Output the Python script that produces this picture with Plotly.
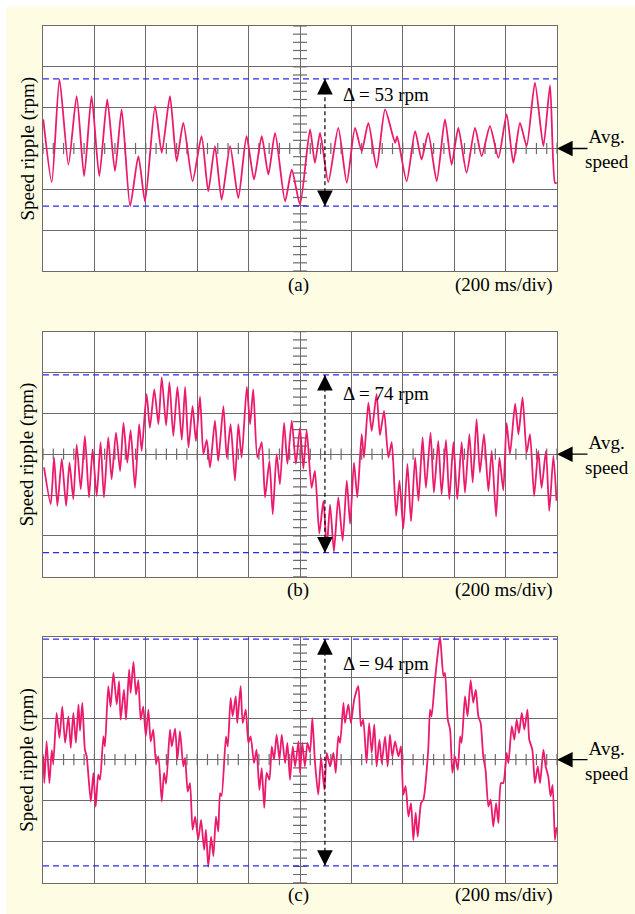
import plotly.graph_objects as go

# ---------------- data (time in ms, speed ripple in rpm) ----------------
t_a = [1, 34, 64, 99, 131, 160, 189, 219, 250, 280, 306, 339, 371, 397, 436, 462, 494, 520, 546, 582,
       617, 643, 669, 695, 728, 760, 792, 821, 851, 877, 903, 942, 968, 1000, 1039, 1058, 1078, 1110, 1149,
       1182, 1214, 1240, 1266, 1298, 1331, 1370, 1378, 1415, 1448, 1473, 1499, 1532, 1564, 1590, 1616, 1648,
       1681, 1707, 1739, 1772, 1804, 1830, 1856, 1882, 1914, 1947, 1973, 1992, 1999]
v_a = [12.1, -14, 28.8, -6.7, 21.8, -11.5, 21.8, -11.5, 20.4, -9.4, 16.3, -24, -3.2, -22, 17.6, -1.8,
       21.8, -5.3, 10.7, -13.6, 5.1, -17.8, 1, -21.3, 1, -20.6, 5.1, -12.9, 5.1, -10.8, 6.5, -22, -8.8,
       -23.3, 7.9, -6, 6.5, -14, 8.6, -14.3, 8.6, -1.1, 10.7, -8, 16.3, 2.4, 5, -13.6, 7.2, -4.6, 6.5, -13.6,
       12.1, -6.7, 8.6, -10.1, 8.6, -3.2, 9.3, -3.9, 14.2, -6, 10.7, 1, 27.4, 1, 26.3, -14.3, -14.3]

t_b = [4, 30, 43, 56, 73, 90, 103, 118, 131, 147, 163, 179, 193, 209, 224, 237, 254, 267, 284, 300,
       313, 328, 341, 358, 374, 384, 403, 416, 433, 449, 462, 479, 492, 507, 523, 540, 553, 566, 582,
       595, 611, 624, 637, 650, 669, 682, 702, 715, 730, 747, 760, 773, 793, 806, 818, 834, 851, 864,
       881, 894, 909, 922, 938, 951, 968, 984, 1000, 1013, 1026, 1045, 1058, 1075, 1091, 1104, 1117,
       1132, 1149, 1166, 1182, 1195, 1210, 1223, 1240, 1249, 1266, 1279, 1298, 1311, 1327, 1344, 1357,
       1374, 1387, 1402, 1418, 1432, 1448, 1461, 1477, 1490, 1508, 1521, 1538, 1551, 1568, 1581, 1597,
       1612, 1629, 1642, 1659, 1672, 1687, 1700, 1716, 1733, 1746, 1763, 1776, 1791, 1804, 1817, 1837,
       1850, 1866, 1882, 1895, 1911, 1927, 1940, 1957, 1970, 1986, 1998]
v_b = [-5.5, -20.8, -1.4, -21.5, -2, -21.5, -3.5, -18.7, 4, -14.6, 7.6, -18, 2, -17.4, 5, -18, 7, -10.4,
       9, -7, 13, -3.5, 10, -14, 12.5, 1.4, 25, 11, 27, 12.5, 32, 12, 30, 7.6, 28, 6, 28, 2.8, 20, 5.5,
       24, 0, 6, -5.5, 14, -2.8, 20, -1.4, 12.5, -11, 12.5, -1.4, 28, 12.5, 27, -1.4, 5, -18, -2.8, -25,
       0, -12.5, 13, -4, 14, -4, 11, -6, 10, -14, -7, -33, -19.4, -39, -21, -40.5, -18, -36, -11, -29,
       -3.5, -18, 8.3, -1.4, 21.5, 9.7, 25, 8, 18, -1.4, 5, -25.7, -11, -31, -4, -28, -1.4, -19.4, 7,
       -14, 9, -16, 5.5, -16.7, 6, -18.7, 5, -18.7, 5, -16, 8.3, -11.8, 14.6, -7.6, 8.3, -15.3, 1.4,
       -26, -1.4, -15, 13, 0, 21, 8.3, 23.6, 0.7, 8.3, -17.4, 1.4, -14, 1.4, -23.6, -0.7, -19.4]

t_c = [1, 5, 14, 25, 34, 40, 53, 64, 75, 86, 99, 108, 118, 128, 138, 144, 153, 163, 170, 186, 196,
       205, 215, 222, 235, 241, 254, 263, 274, 287, 296, 302, 315, 323, 335, 341, 352, 362, 371, 380,
       390, 400, 410, 419, 429, 440, 449, 462, 471, 479, 494, 501, 514, 523, 533, 546, 553, 563, 572,
       582, 592, 604, 615, 627, 634, 643, 654, 663, 673, 682, 689, 695, 712, 719, 730, 738, 750, 756,
       769, 777, 789, 799, 808, 821, 831, 842, 851, 861, 870, 881, 890, 899, 909, 920, 929, 942, 951,
       961, 972, 981, 994, 1000, 1009, 1019, 1029, 1039, 1048, 1058, 1071, 1082, 1095, 1104, 1117,
       1130, 1139, 1149, 1156, 1169, 1175, 1188, 1198, 1211, 1227, 1237, 1246, 1259, 1269, 1279, 1289,
       1298, 1309, 1318, 1331, 1341, 1350, 1359, 1370, 1383, 1393, 1402, 1411, 1422, 1432, 1441, 1450,
       1458, 1471, 1480, 1499, 1506, 1512, 1525, 1534, 1545, 1558, 1564, 1575, 1584, 1593, 1603, 1614,
       1623, 1629, 1642, 1652, 1664, 1674, 1684, 1694, 1703, 1713, 1722, 1733, 1742, 1752, 1763, 1772,
       1782, 1791, 1804, 1811, 1824, 1834, 1843, 1852, 1863, 1873, 1885, 1892, 1904, 1914, 1925, 1934,
       1947, 1956, 1966, 1975, 1983, 1992, 1998]
v_c = [1.4, -9.7, 7.6, -9.7, 4, -1.4, 19.4, 9, 22, 7, 18, 4.9, 19.4, 7, 22.9, 12, 23.6, 4.2, 1.4, -17.3,
       -5.5, -19.4, -6.2, -8.3, 9.7, 5.5, 30.5, 22, 36, 22.9, 32.6, 16.6, 29, 16.6, 37.4, 27.7, 40.5, 27,
       33, 16.6, 22, 9.7, 20.8, 7.6, 12.5, -1.4, 1.4, -17.3, -5.5, -10, 12.5, 5.5, 12.9, 0, 11.8, -2.8,
       0.7, -13.2, -9.7, -29, -23.6, -33, -25, -37.4, -29, -44.3, -31.9, -40, -23.6, -29.8, -13.9, -15,
       9.7, 5.5, 25.6, 18, 26.3, 15.2, 30.5, 15.2, 20.8, 7, 9.7, -1.4, 4.2, -12.5, -3.5, -20, -5.5, -8.3,
       5.5, 0, 10.4, 0, 10.4, -1.4, 7, -8.3, 5.5, -2.8, 7.6, -5.5, 7, -2.8, 7, 3, 17.3, -0.7, -14.5, 0.7,
       -12.5, 2.8, -2.8, 2.8, -5.5, 9.7, 7, 23.6, 15.2, 22.9, 15.2, 25, 30.5, 13.9, 16.6, -1.4, 15.2, 2.8,
       14.6, -2.8, 8.3, -1.4, 9.7, -2.8, 10.4, 1.4, 7.6, 1.4, 5.5, -14.5, -11, -23.6, -18, -33.3, -22,
       -31.9, -18, -16.6, 4.2, 20.8, 18, 33, 42, 51, 34.7, 36, 16.6, 12.5, -5.5, 1.4, -4.2, 9.7, 7, 26.3,
       18, 33, 23.6, 29, 18, 15.2, 1.4, -4.2, -19.4, -16.6, -27.7, -18, -26.3, -9.7, -9.7, 2.8, -1.4,
       13.9, 8.3, 16.6, 11, 19.4, 12.5, 20.8, 8.3, 4.2, -9.7, -2.8, -9.7, 4.2, -2.8, -6.9, -15.2, -10.4,
       -33.3, -28]

panel_letters = ["(a)", "(b)", "(c)"]
upper_lines = [29, 33, 50]
lower_lines = [-24, -41, -44]
delta_labels = ["Δ = 53 rpm", "Δ = 74 rpm", "Δ = 94 rpm"]
time_div_label = "(200 ms/div)"
y_title = "Speed ripple (rpm)"
avg_label = "Avg.<br>speed"

# ---------------- layout constants ----------------
W, H = 635, 914
MS_PER_DIV = 200
RPM_PER_DIV = 17
X_RANGE = [0, 2000]
Y_RANGE = [-3 * RPM_PER_DIV, 3 * RPM_PER_DIV]
GRID = "#706969"
TRACE = "#ec1a6c"
BLUE = "#2a2af0"
YELLOW = "#fefde4"
FONT = "Liberation Serif, Times New Roman, serif"

def px_x(px):
    return px / W

def px_y(py):
    return 1 - py / H

plot_left, plot_right = 43, 557
tops = [26, 331.7, 636.7]
bottoms = [271, 576.7, 882.7]
label_y = [285.5, 590, 895]
delta_y = [94, 394, 663]
arrow_t = 1097

series = [(t_a, v_a), (t_b, v_b), (t_c, v_c)]

fig = go.Figure()
shapes = []
annotations = []

for i, (tt, vv) in enumerate(series):
    n = "" if i == 0 else str(i + 1)
    xa, ya = "x" + n, "y" + n
    # minor ticks on the centre cross
    tick_y = [k * RPM_PER_DIV / 5 for k in range(-15, 16)]
    tick_x = [k * MS_PER_DIV / 5 for k in range(0, 51)]
    fig.add_trace(go.Scatter(x=[1000] * len(tick_y), y=tick_y, mode="markers", xaxis=xa, yaxis=ya,
                             marker=dict(symbol="line-ew", size=10, line=dict(color=GRID, width=1.2)),
                             hoverinfo="skip", showlegend=False))
    fig.add_trace(go.Scatter(x=tick_x, y=[0] * len(tick_x), mode="markers", xaxis=xa, yaxis=ya,
                             marker=dict(symbol="line-ns", size=8, line=dict(color=GRID, width=1.2)),
                             hoverinfo="skip", showlegend=False))
    fig.add_trace(go.Scatter(x=tt, y=vv, mode="lines", xaxis=xa, yaxis=ya,
                             line=dict(color=TRACE, width=1.8, shape="spline", smoothing=0.6),
                             showlegend=False))

    dom_y = [px_y(bottoms[i]), px_y(tops[i])]
    fig.update_layout(**{
        ("xaxis" + n): dict(domain=[px_x(plot_left), px_x(plot_right)], range=X_RANGE, dtick=MS_PER_DIV,
                            tick0=0, showgrid=True, gridcolor=GRID, gridwidth=1.4, zeroline=False,
                            showticklabels=False, ticks="", showline=True, linecolor=GRID, linewidth=1.4,
                            mirror=True, anchor=ya, fixedrange=True),
        ("yaxis" + n): dict(domain=dom_y, range=Y_RANGE, dtick=RPM_PER_DIV, tick0=0, showgrid=True,
                            gridcolor=GRID, gridwidth=1.4, zeroline=False, showticklabels=False, ticks="",
                            showline=True, linecolor=GRID, linewidth=1.4, mirror=True, anchor=xa,
                            fixedrange=True),
    })

    # blue dashed level lines
    for lvl in (upper_lines[i], lower_lines[i]):
        shapes.append(dict(type="line", xref=xa + " domain", yref=ya, x0=0, x1=1, y0=lvl, y1=lvl,
                           line=dict(color=BLUE, width=1.3, dash="6px,4px"), layer="above"))
    # dashed double-arrow shaft
    shapes.append(dict(type="line", xref=xa, yref=ya, x0=arrow_t, x1=arrow_t,
                       y0=lower_lines[i], y1=upper_lines[i],
                       line=dict(color="black", width=1.2, dash="4px,3px"), layer="above"))
    for lvl, off in ((upper_lines[i], 14), (lower_lines[i], -14)):
        annotations.append(dict(x=arrow_t, y=lvl, xref=xa, yref=ya, ax=0, ay=off, showarrow=True,
                                arrowhead=2, arrowsize=2.4, arrowwidth=1.3, arrowcolor="black", text=""))
    # avg speed arrow
    annotations.append(dict(x=X_RANGE[1], y=0, xref=xa, yref=ya, ax=32, ay=0, showarrow=True,
                            arrowhead=2, arrowsize=2.4, arrowwidth=1.3, arrowcolor="black", text=""))
    mid = (tops[i] + bottoms[i]) / 2
    annotations.append(dict(x=px_x(607), y=px_y(mid + 1), xref="paper", yref="paper", text=avg_label,
                            showarrow=False, xanchor="center", yanchor="middle",
                            font=dict(family=FONT, size=19, color="black")))
    annotations.append(dict(x=px_x(341), y=px_y(delta_y[i]), xref="paper", yref="paper",
                            text=delta_labels[i], showarrow=False, xanchor="left", yanchor="middle",
                            font=dict(family=FONT, size=19, color="black")))
    annotations.append(dict(x=px_x(298), y=px_y(label_y[i]), xref="paper", yref="paper",
                            text=panel_letters[i], showarrow=False, xanchor="center", yanchor="middle",
                            font=dict(family=FONT, size=19, color="black")))
    annotations.append(dict(x=px_x(555), y=px_y(label_y[i]), xref="paper", yref="paper",
                            text=time_div_label, showarrow=False, xanchor="right", yanchor="middle",
                            font=dict(family=FONT, size=19, color="black")))
    annotations.append(dict(x=px_x(27), y=px_y(mid), xref="paper", yref="paper", text=y_title,
                            textangle=-90, showarrow=False, xanchor="center", yanchor="middle",
                            font=dict(family=FONT, size=19, color="black")))

# white outer strips (top and left)
shapes.append(dict(type="rect", xref="paper", yref="paper", x0=0, x1=px_x(6), y0=0, y1=1,
                   fillcolor="white", line=dict(width=0), layer="below"))
shapes.append(dict(type="rect", xref="paper", yref="paper", x0=0, x1=1, y0=px_y(7), y1=1,
                   fillcolor="white", line=dict(width=0), layer="below"))

fig.update_layout(width=W, height=H, margin=dict(l=0, r=0, t=0, b=0), paper_bgcolor=YELLOW,
                  plot_bgcolor="white", shapes=shapes, annotations=annotations, showlegend=False)

fig.write_html("out.html")
